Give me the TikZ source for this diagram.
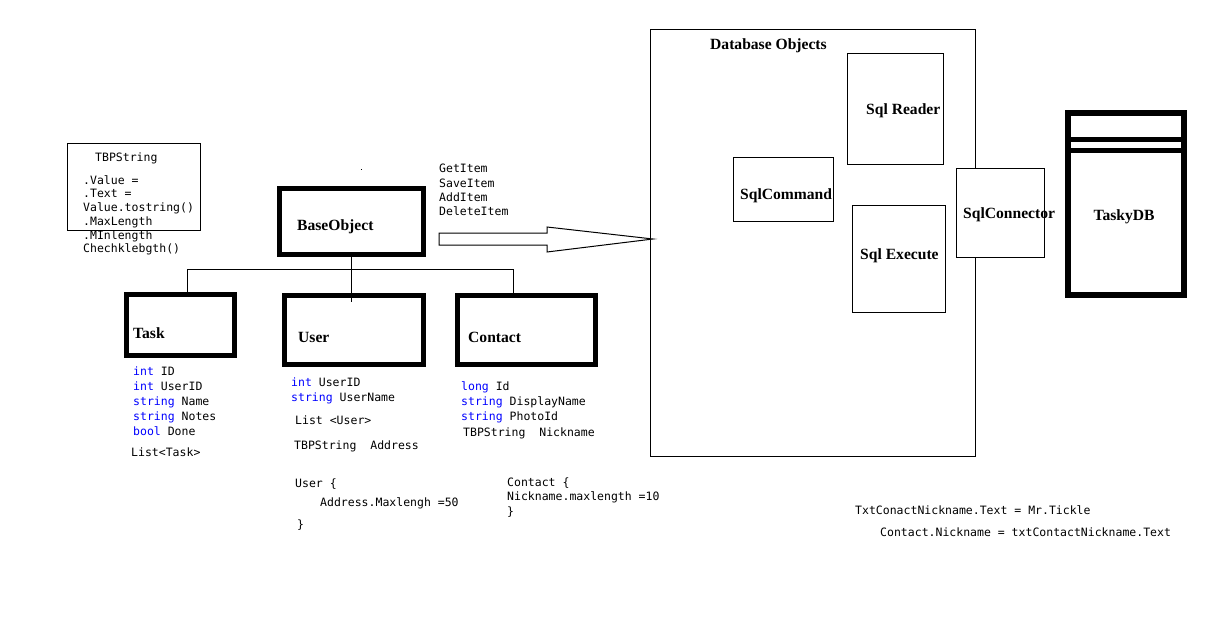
\documentclass[tikz,border=0pt]{standalone}
\usepackage{fontspec}
\setmainfont{Liberation Serif}
\newfontfamily\codefam{DejaVu Sans Mono}
\definecolor{kw}{RGB}{0,0,255}
\newcommand{\kwd}[1]{\textcolor{kw}{#1}}
\tikzset{
  code/.style={font=\codefam\fontsize{11.5}{13}\selectfont, anchor=base west, inner sep=0pt, yshift=-4pt},
  lbl/.style={font=\bfseries\fontsize{15.6}{17}\selectfont, anchor=base west, inner sep=0pt, yshift=-5pt},
  thickbox/.style={draw, line width=5pt, inner sep=0pt, fill=white},
  thinbox/.style={draw, line width=1pt, inner sep=0pt},
  conn/.style={line width=1pt},
}
\begin{document}
\begin{tikzpicture}[x=1pt,y=-1pt]
\useasboundingbox (0,0) rectangle (1231,642);

% TBPString box
\node[thinbox, minimum width=133pt, minimum height=87pt] (tbp) at (133.5,186.5) {};
\node[code] (tbpT) at (95,157) {TBPString};
\node[code] (tbp1) at (83,180) {.Value =};
\node[code] (tbp2) at (83,193) {.Text =};
\node[code] (tbp3) at (83,207) {Value.tostring()};
\node[code] (tbp4) at (83,221) {.MaxLength};
\node[code] (tbp5) at (83,235) {.MInlength};
\node[code] (tbp6) at (83,248) {Chechklebgth()};

% tiny dot
\fill (360.5,168.5) rectangle (362,170);

% BaseObject
\node[thickbox, minimum width=144pt, minimum height=66pt] (base) at (351.5,221.5) {};
\node[lbl] (baseL) at (297,225) {BaseObject};

% Task / User / Contact
\node[thickbox, minimum width=108pt, minimum height=61pt] (task) at (180.5,325) {};
\node[lbl] (taskL) at (133,333) {Task};
\node[thickbox, minimum width=139pt, minimum height=69pt] (user) at (354,330) {};
\node[lbl] (userL) at (298,337) {User};
\node[thickbox, minimum width=138pt, minimum height=69pt] (contact) at (526.5,330) {};
\node[lbl] (contactL) at (468,337) {Contact};

% connectors
\coordinate (busL) at (187.5,269);
\coordinate (busR) at (513,269);
\coordinate (busM) at (351,269);
\coordinate (userIn) at (351,302);
\draw[conn] (base.south -| busM) -- (busM);
\draw[conn] (busL) -- (busR);
\draw[conn] (busL) -- (busL |- task.north);
\draw[conn] (busR) -- (busR |- contact.north);
\draw[conn] (busM) -- (userIn);

% Task fields
\node[code] (t1) at (133,371) {\kwd{int} ID};
\node[code] (t2) at (133,386) {\kwd{int} UserID};
\node[code] (t3) at (133,401) {\kwd{string} Name};
\node[code] (t4) at (133,416) {\kwd{string} Notes};
\node[code] (t5) at (133,431) {\kwd{bool} Done};
\node[code] (t6) at (131,452) {List<Task>};

% User fields
\node[code] (u1) at (291,382) {\kwd{int} UserID};
\node[code] (u2) at (291,397) {\kwd{string} UserName};
\node[code] (u3) at (295,420) {List <User>};
\node[code] (u4) at (294,445) {TBPString\ \ Address};
\node[code] (u5) at (295,483) {User \{};
\node[code] (u6) at (320,502) {Address.Maxlengh =50};
\node[code] (u7) at (297,524) {\}};

% Contact fields
\node[code] (c1) at (461,386) {\kwd{long} Id};
\node[code] (c2) at (461,401) {\kwd{string} DisplayName};
\node[code] (c3) at (461,416) {\kwd{string} PhotoId};
\node[code] (c4) at (463,432) {TBPString\ \ Nickname};
\node[code] (c5) at (507,482) {Contact \{};
\node[code] (c6) at (507,496) {Nickname.maxlength =10};
\node[code] (c7) at (507,511) {\}};

% methods
\node[code] (m1) at (439,168) {GetItem};
\node[code] (m2) at (439,183) {SaveItem};
\node[code] (m3) at (439,197) {AddItem};
\node[code] (m4) at (439,211) {DeleteItem};

% Database objects
\node[thinbox, minimum width=325pt, minimum height=426pt] (db) at (812.5,243) {};
\node[lbl] (dbL) at (710,44) {Database Objects};
\node[thinbox, minimum width=96pt, minimum height=110pt] (reader) at (895,109) {};
\node[lbl] (readerL) at (866,109) {Sql Reader};
\node[thinbox, minimum width=100pt, minimum height=64pt] (command) at (783,189) {};
\node[lbl] (commandL) at (740,194) {SqlCommand};
\node[thinbox, minimum width=93pt, minimum height=107pt] (execute) at (898.5,258.5) {};
\node[lbl] (executeL) at (860,254) {Sql Execute};
\node[thinbox, fill=white, minimum width=88pt, minimum height=89pt] (connector) at (1000,212.5) {};
\node[lbl] (connectorL) at (963,213) {SqlConnector};

% block arrow
\coordinate (arT) at (653,239);
\draw[line width=1pt] (439,233) -- (547,233) -- (547,227) -- (arT) -- (547,252) -- (547,245) -- (439,245) -- cycle;

% TaskyDB
\node[draw, line width=6pt, inner sep=0pt, minimum width=116pt, minimum height=182pt] (tasky) at (1126,204) {};
\draw[line width=5pt] (tasky.west |- 0,139.5) -- (tasky.east |- 0,139.5);
\draw[line width=5pt] (tasky.west |- 0,150.5) -- (tasky.east |- 0,150.5);
\node[lbl, anchor=base] (taskyL) at (1124,215) {TaskyDB};

% notes
\node[code] (n1) at (855,510) {TxtConactNickname.Text = Mr.Tickle};
\node[code] (n2) at (880,532) {Contact.Nickname = txtContactNickname.Text};
\end{tikzpicture}
\end{document}
